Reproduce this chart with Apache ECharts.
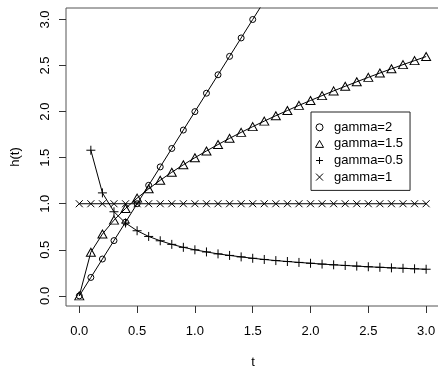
<!DOCTYPE html>
<html>
<head>
<meta charset="utf-8">
<script src="https://cdn.jsdelivr.net/npm/echarts@6/dist/echarts.min.js"></script>
<style>
html, body { margin: 0; padding: 0; background: #fff; }
#chart { width: 438px; height: 370px; }
</style>
</head>
<body>
<div id="chart"></div>
<script>
// time points
var tValues = [0, 0.1, 0.2, 0.3, 0.4, 0.5, 0.6, 0.7, 0.8, 0.9, 1.0,
  1.1, 1.2, 1.3, 1.4, 1.5, 1.6, 1.7, 1.8, 1.9, 2.0,
  2.1, 2.2, 2.3, 2.4, 2.5, 2.6, 2.7, 2.8, 2.9, 3.0];

// h(t) for each gamma
var gamma2 = [0, 0.2, 0.4, 0.6, 0.8, 1.0, 1.2, 1.4, 1.6, 1.8, 2.0,
  2.2, 2.4, 2.6, 2.8, 3.0, 3.2, 3.4, 3.6, 3.8, 4.0,
  4.2, 4.4, 4.6, 4.8, 5.0, 5.2, 5.4, 5.6, 5.8, 6.0];
var gamma15 = [0, 0.474, 0.671, 0.822, 0.949, 1.061, 1.162, 1.255, 1.342, 1.423, 1.5,
  1.573, 1.643, 1.710, 1.775, 1.837, 1.897, 1.956, 2.012, 2.068, 2.121,
  2.174, 2.225, 2.275, 2.324, 2.372, 2.419, 2.465, 2.510, 2.554, 2.598];
var gamma05 = [null, 1.581, 1.118, 0.913, 0.791, 0.707, 0.645, 0.598, 0.559, 0.527, 0.5,
  0.477, 0.456, 0.439, 0.423, 0.408, 0.395, 0.383, 0.373, 0.363, 0.354,
  0.345, 0.337, 0.330, 0.323, 0.316, 0.310, 0.304, 0.299, 0.294, 0.289];
var gamma1 = [1, 1, 1, 1, 1, 1, 1, 1, 1, 1, 1,
  1, 1, 1, 1, 1, 1, 1, 1, 1, 1,
  1, 1, 1, 1, 1, 1, 1, 1, 1, 1];

var seriesNames = ['gamma=2', 'gamma=1.5', 'gamma=0.5', 'gamma=1'];
var xTicks = [0, 0.5, 1.0, 1.5, 2.0, 2.5, 3.0];
var yTicks = [0, 0.5, 1.0, 1.5, 2.0, 2.5, 3.0];

var plusPath = 'path://M5,0L5,10M0,5L10,5';
var crossPath = 'path://M0,0L10,10M10,0L0,10';
var trianglePath = 'path://M5,0L10,8.7L0,8.7Z';

var font = 'Liberation Sans, Arial, Helvetica, sans-serif';

function pairs(ys) {
  var out = [];
  for (var i = 0; i < tValues.length; i++) {
    if (ys[i] !== null) out.push([tValues[i], ys[i]]);
  }
  return out;
}

function makeSeries(name, ys, symbol, size) {
  return {
    name: name,
    type: 'line',
    data: pairs(ys),
    symbol: symbol,
    symbolSize: size,
    showAllSymbol: true,
    clip: true,
    animation: false,
    lineStyle: { color: '#000', width: 1 },
    itemStyle: { color: 'rgba(0,0,0,0)', borderColor: '#000', borderWidth: 1 },
    emphasis: { disabled: true }
  };
}

var myChart = echarts.init(document.getElementById('chart'));

var option = {
  backgroundColor: '#fff',
  animation: false,
  grid: {
    left: 66, right: -2, top: 8, bottom: 64,
    containLabel: false,
    outerBoundsMode: 'none',
    show: true, borderColor: '#555', borderWidth: 1, backgroundColor: 'transparent'
  },
  legend: {
    orient: 'vertical',
    left: 311, top: 112,
    padding: [7, 7, 5, 4],
    itemWidth: 19, itemHeight: 7,
    itemGap: 0,
    symbolKeepAspect: true,
    borderColor: '#222', borderWidth: 1,
    selectedMode: false,
    itemStyle: { color: 'rgba(0,0,0,0)', borderColor: '#000', borderWidth: 1 },
    textStyle: { fontFamily: font, fontSize: 13, color: '#000', lineHeight: 16.6 },
    data: [
      { name: seriesNames[0], icon: 'circle', itemWidth: 19, itemHeight: 5 },
      { name: seriesNames[1], icon: trianglePath },
      { name: seriesNames[2], icon: plusPath },
      { name: seriesNames[3], icon: crossPath }
    ]
  },
  xAxis: {
    type: 'value',
    min: -0.115, max: 3.12,
    name: 't', nameLocation: 'middle', nameGap: 50,
    nameTextStyle: { fontFamily: font, fontSize: 13, color: '#000' },
    axisLine: { show: false, onZero: false },
    axisTick: { show: true, customValues: xTicks, length: 7, lineStyle: { color: '#333' } },
    axisLabel: {
      customValues: xTicks, margin: 19,
      fontFamily: font, fontSize: 13, color: '#000',
      formatter: function (v) { return v.toFixed(1); }
    },
    splitLine: { show: false }
  },
  yAxis: {
    type: 'value',
    min: -0.11, max: 3.125,
    name: 'h(t)', nameLocation: 'middle', nameGap: 44,
    nameTextStyle: { fontFamily: font, fontSize: 13, color: '#000' },
    axisLine: { show: false, onZero: false },
    axisTick: { show: true, customValues: yTicks, length: 7, lineStyle: { color: '#333' } },
    axisLabel: {
      customValues: yTicks, margin: 14, rotate: 90,
      fontFamily: font, fontSize: 13, color: '#000',
      formatter: function (v) { return v.toFixed(1); }
    },
    splitLine: { show: false }
  },
  series: [
    makeSeries(seriesNames[0], gamma2, 'circle', 6),
    makeSeries(seriesNames[1], gamma15, 'triangle', [9, 8]),
    makeSeries(seriesNames[2], gamma05, plusPath, 9),
    makeSeries(seriesNames[3], gamma1, crossPath, 7)
  ]
};

myChart.setOption(option);
</script>
</body>
</html>
